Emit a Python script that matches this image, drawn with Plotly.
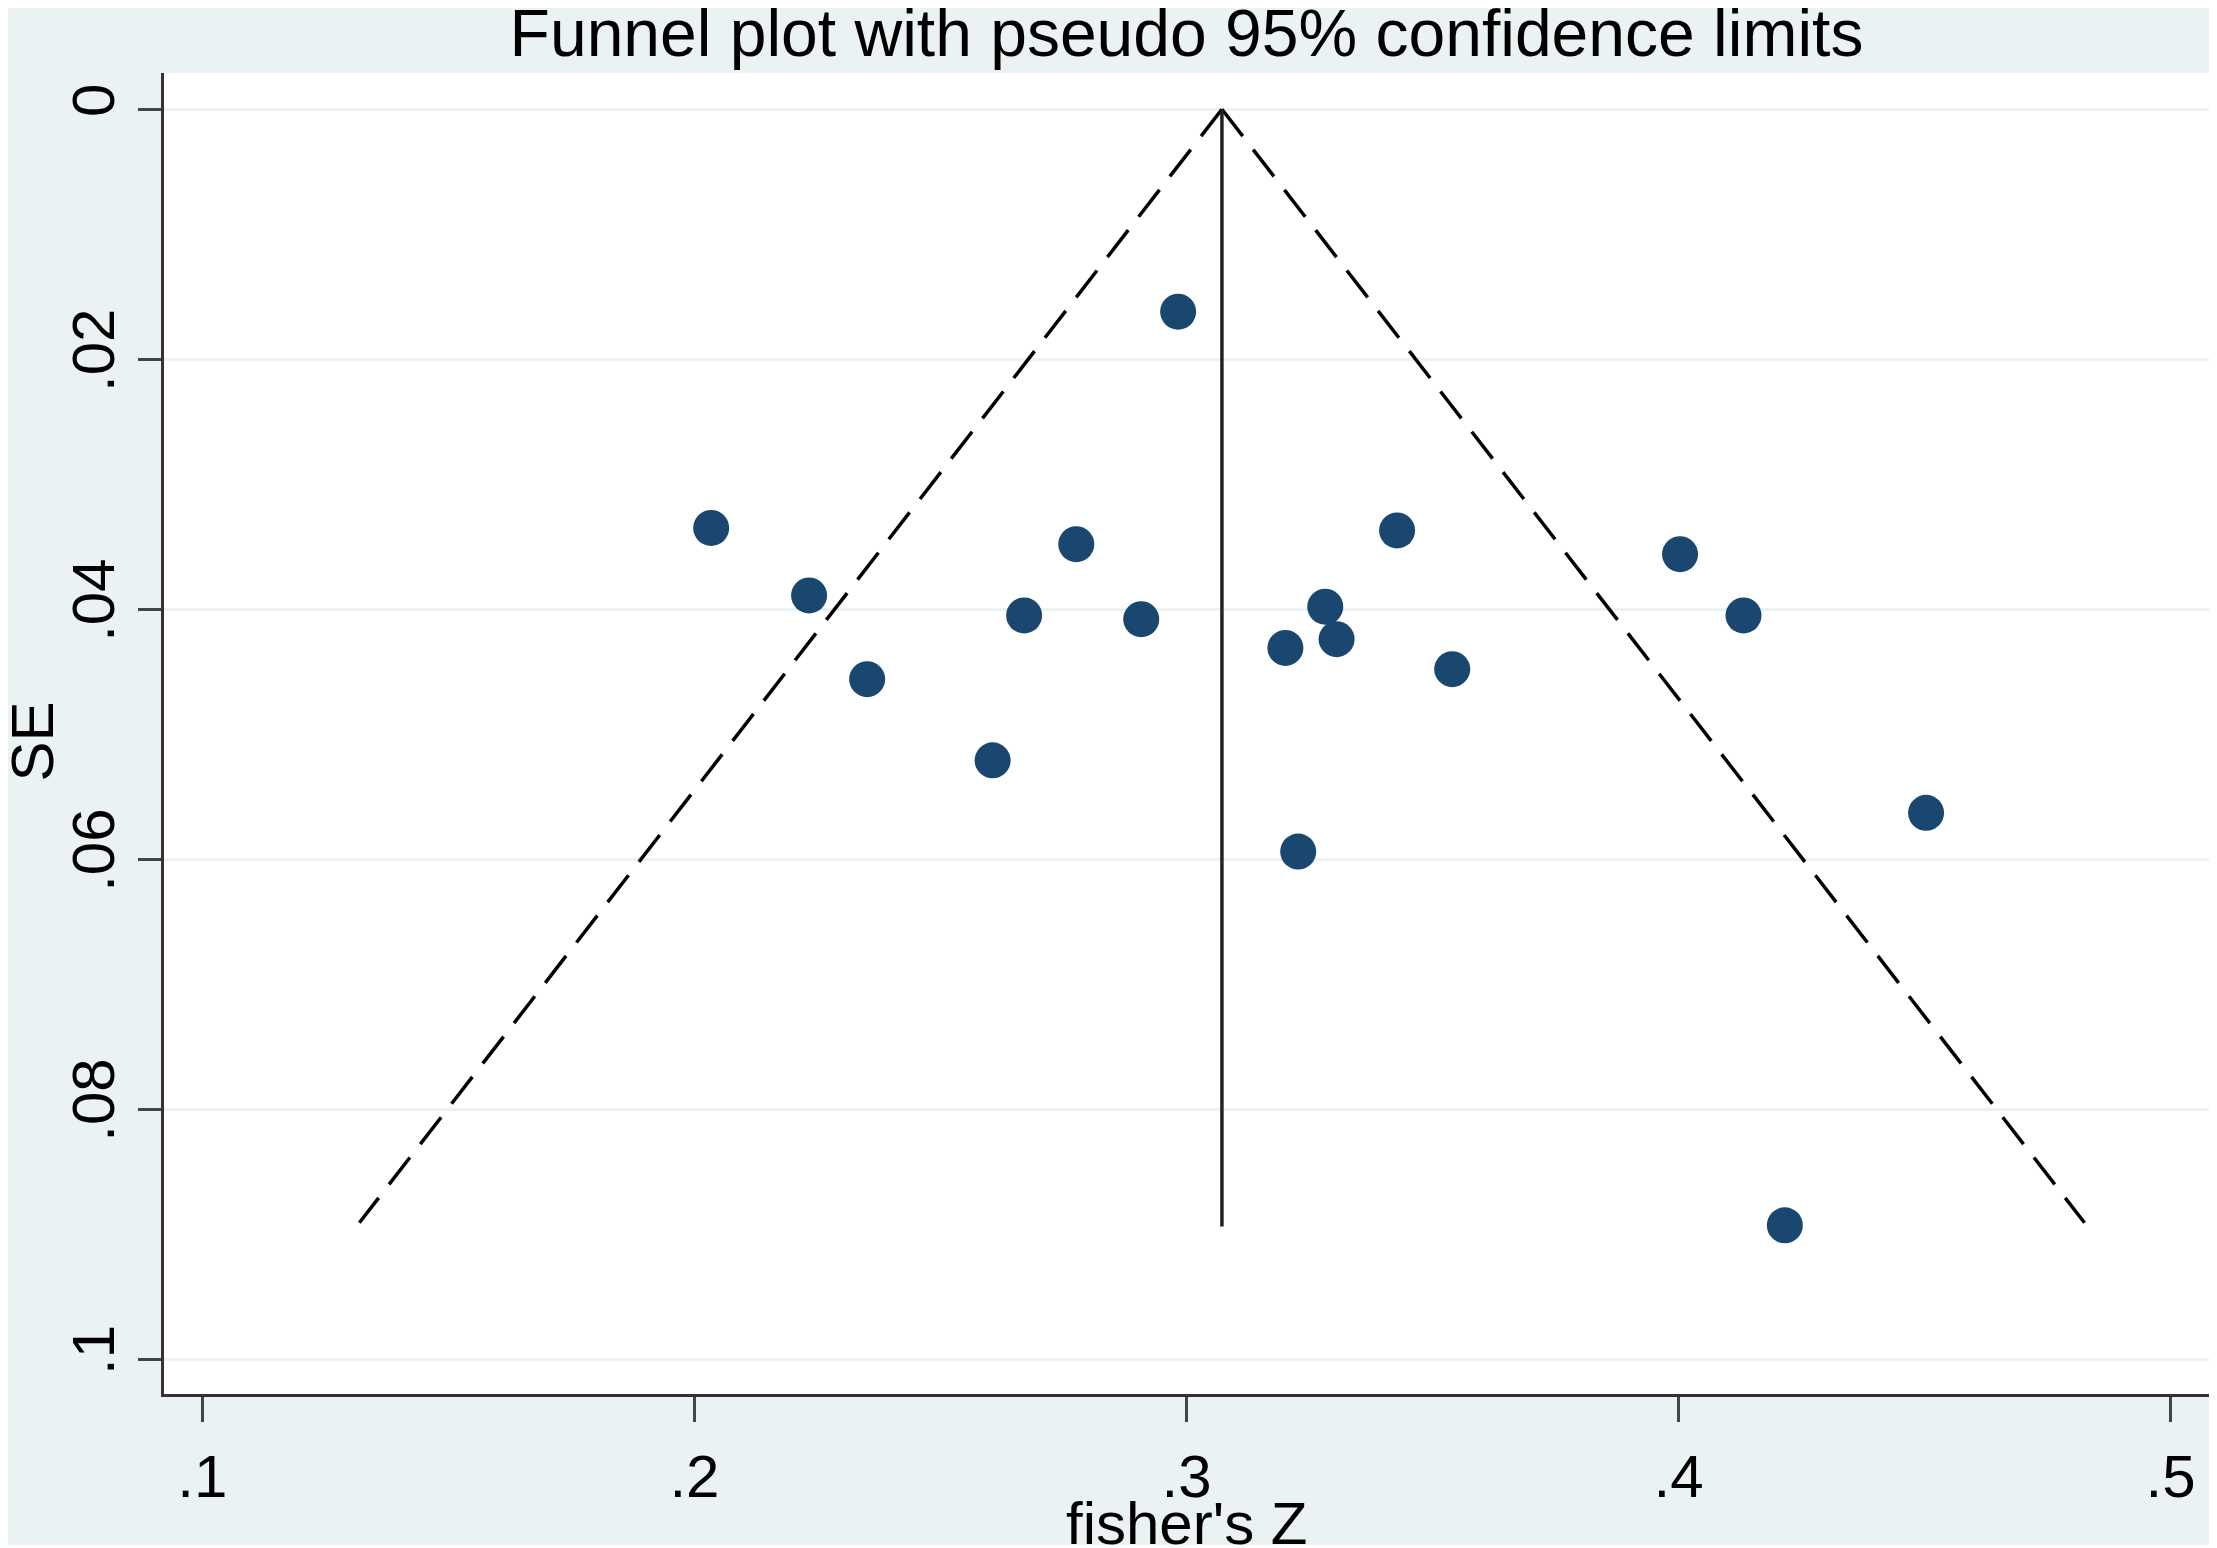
import plotly.graph_objects as go

# Study estimates
fisher_z = [0.2983, 0.2034, 0.2233, 0.2351, 0.2776, 0.2670, 0.2908, 0.2606, 0.3201,
            0.3282, 0.3305, 0.3428, 0.3540, 0.3227, 0.4003, 0.4132, 0.4503, 0.4216]
se = [0.0162, 0.0335, 0.0389, 0.0456, 0.0348, 0.0405, 0.0408, 0.0521, 0.0431,
      0.0398, 0.0424, 0.0337, 0.0448, 0.0594, 0.0356, 0.0405, 0.0563, 0.0893]

# Pooled estimate and pseudo 95% limits (apex at SE=0, ends at max SE)
pooled_z = [0.3072, 0.3072]
pooled_se = [0.0, 0.0894]
lower_z = [0.3072, 0.1319]
upper_z = [0.3072, 0.4825]
limit_se = [0.0, 0.0891]

x_tickvals = [0.1, 0.2, 0.3, 0.4, 0.5]
x_ticktext = [".1", ".2", ".3", ".4", ".5"]
y_tickvals = [0.0, 0.02, 0.04, 0.06, 0.08, 0.1]
y_ticktext = ["0", ".02", ".04", ".06", ".08", ".1"]

# page body keeps its 8px margin, so the figure is 8px smaller than the window
W, H = 2209, 1540
ML, MR, MT, MB = 156, 8, 65, 154
BG = "#EAF2F3"
NAVY = "#1a476f"
FONT = "Liberation Sans, Arial, sans-serif"

fig = go.Figure()

# Pseudo confidence limits, dashed
for zs in (lower_z, upper_z):
    fig.add_trace(
        go.Scatter(
            x=zs,
            y=limit_se,
            mode="lines",
            line=dict(color="black", width=3.5, dash="34px,17px"),
            showlegend=False,
            hoverinfo="skip",
        )
    )

# Pooled estimate, solid vertical
fig.add_trace(
    go.Scatter(
        x=pooled_z,
        y=pooled_se,
        mode="lines",
        line=dict(color="#222222", width=3.5),
        showlegend=False,
        hoverinfo="skip",
    )
)

fig.add_trace(
    go.Scatter(
        x=fisher_z,
        y=se,
        mode="markers",
        marker=dict(color=NAVY, size=36, line=dict(width=0)),
        showlegend=False,
    )
)

# thin white edge on the right and bottom of the graph
pw, ph = W - ML - MR, H - MT - MB
x_right = 1 + MR / pw
y_bottom = -MB / ph
fig.add_shape(type="line", xref="paper", yref="paper", x0=x_right, x1=x_right,
              y0=y_bottom, y1=1 + MT / ph, line=dict(color="white", width=6), layer="above")
fig.add_shape(type="line", xref="paper", yref="paper", x0=-ML / pw, x1=x_right,
              y0=y_bottom, y1=y_bottom, line=dict(color="white", width=6), layer="above")

# axis titles as annotations so they can sit where Stata put them
fig.add_annotation(
    text="fisher's Z",
    xref="paper",
    yref="paper",
    x=0.5,
    y=0,
    xanchor="center",
    yanchor="top",
    yshift=-94,
    showarrow=False,
    font=dict(size=60),
)
fig.add_annotation(
    text="SE",
    xref="paper",
    yref="paper",
    x=(24 - ML) / pw,
    y=0.494,
    xanchor="center",
    yanchor="middle",
    textangle=-90,
    showarrow=False,
    font=dict(size=60),
)

fig.update_layout(
    width=W,
    height=H,
    margin=dict(l=ML, r=MR, t=MT, b=MB),
    paper_bgcolor=BG,
    plot_bgcolor="white",
    font=dict(family=FONT, color="black", size=60),
    title=dict(
        text="Funnel plot with pseudo 95% confidence limits",
        font=dict(size=66),
        x=0.5,
        xref="paper",
        xanchor="center",
        y=1 - 25 / H,
        yref="container",
        yanchor="middle",
    ),
    xaxis=dict(
        range=[0.0922, 0.5078],
        tickvals=x_tickvals,
        ticktext=x_ticktext,
        ticks="outside",
        ticklen=25,
        tickwidth=3,
        tickcolor="#444444",
        ticklabelstandoff=3,
        showline=True,
        linecolor="#333333",
        linewidth=3,
        showgrid=False,
        zeroline=False,
        automargin=False,
    ),
    yaxis=dict(
        range=[0.1028, -0.0029],
        tickvals=y_tickvals,
        ticktext=y_ticktext,
        tickangle=-90,
        ticks="outside",
        ticklen=23,
        tickwidth=3,
        tickcolor="#444444",
        showline=True,
        linecolor="#333333",
        linewidth=3,
        showgrid=True,
        gridcolor=BG,
        gridwidth=3,
        zeroline=False,
        automargin=False,
    ),
)

fig.write_html("out.html")
